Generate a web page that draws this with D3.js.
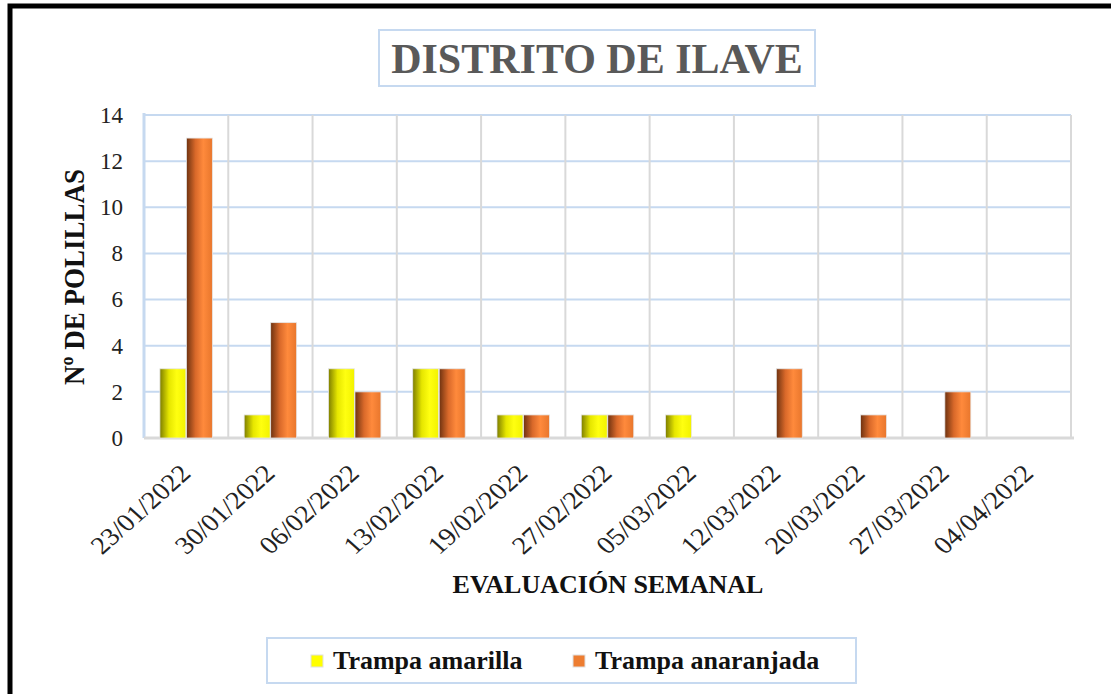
<!DOCTYPE html>
<html lang="es">
<head>
<meta charset="UTF-8">
<script src="https://d3js.org/d3.v7.min.js"></script>
<style>
  body { margin: 0; background: #fff; }
  svg { display: block; }
  svg text { font-family: "Liberation Serif", "Times New Roman", Times, serif; }
</style>
</head>
<body>
<svg id="chart" width="1111" height="694"></svg>
<script>
// data
const fechas = ["23/01/2022","30/01/2022","06/02/2022","13/02/2022","19/02/2022","27/02/2022",
                "05/03/2022","12/03/2022","20/03/2022","27/03/2022","04/04/2022"];
const amarilla   = [3, 1, 3, 3, 1, 1, 1, 0, 0, 0, 0];
const anaranjada = [13, 5, 2, 3, 1, 1, 0, 3, 1, 2, 0];
const series = ["Trampa amarilla", "Trampa anaranjada"];
const yTicks = [0, 2, 4, 6, 8, 10, 12, 14];

const svg = d3.select("#chart");
const plot = {left: 144, right: 1071, top: 115, bottom: 438};

// gradients for the cylinder look
const defs = svg.append("defs");
const grad = (id, stops) => {
  const g = defs.append("linearGradient").attr("id", id)
    .attr("x1", "0%").attr("x2", "100%").attr("y1", "0%").attr("y2", "0%");
  stops.forEach(s => g.append("stop").attr("offset", s[0]).attr("stop-color", s[1]));
};
grad("gYel", [["0%", "#7d7d00"], ["35%", "#e6e600"], ["65%", "#ffff10"], ["100%", "#f2f200"]]);
grad("gOra", [["0%", "#6e3210"], ["35%", "#d9692a"], ["65%", "#ff8a3c"], ["100%", "#e8762c"]]);

// outer frame
svg.append("rect").attr("x", 10).attr("y", 6).attr("width", 1200).attr("height", 800)
  .attr("fill", "none").attr("stroke", "#000").attr("stroke-width", 5);

// scales
const x = d3.scaleBand().domain(fechas).range([plot.left, plot.right]).paddingInner(0).paddingOuter(0);
const xs = d3.scaleBand().domain(series).range([0, x.bandwidth()]).paddingInner(0.02).paddingOuter(0.6);
const y = d3.scaleLinear().domain([0, 14]).range([plot.bottom, plot.top]);

// horizontal gridlines
svg.append("g").selectAll("line").data(yTicks.filter(d => d > 0)).join("line")
  .attr("x1", plot.left).attr("x2", plot.right)
  .attr("y1", d => y(d)).attr("y2", d => y(d))
  .attr("stroke", "#c6d9f0").attr("stroke-width", 2);

// vertical gridlines
svg.append("g").selectAll("line").data(fechas).join("line")
  .attr("x1", d => x(d) + x.bandwidth())
  .attr("x2", d => x(d) + x.bandwidth())
  .attr("y1", plot.top).attr("y2", plot.bottom)
  .attr("stroke", "#d9d9d9").attr("stroke-width", 2);

// axis lines
svg.append("line").attr("x1", plot.left).attr("x2", plot.left)
  .attr("y1", plot.top - 2).attr("y2", plot.bottom)
  .attr("stroke", "#c6d9f0").attr("stroke-width", 3);
svg.append("line").attr("x1", plot.left).attr("x2", plot.right + 3)
  .attr("y1", plot.bottom).attr("y2", plot.bottom)
  .attr("stroke", "#d9d9d9").attr("stroke-width", 3);

// bars
const rows = fechas.map((f, i) => ({f, vals: [amarilla[i], anaranjada[i]]}));
const groups = svg.append("g").selectAll("g").data(rows).join("g")
  .attr("transform", d => `translate(${x(d.f)},0)`);
groups.selectAll("rect").data(d => d.vals.map((v, k) => ({s: series[k], v, k})).filter(d => d.v > 0))
  .join("rect")
  .attr("x", d => xs(d.s))
  .attr("width", xs.bandwidth())
  .attr("y", d => y(d.v))
  .attr("height", d => y(0) - y(d.v))
  .attr("fill", d => d.k === 0 ? "url(#gYel)" : "url(#gOra)")
  .attr("stroke", "#e6e6e6").attr("stroke-width", 0.8);

// y axis
const yAxis = svg.append("g").attr("transform", `translate(${plot.left},0)`)
  .call(d3.axisLeft(y).tickValues(yTicks).tickSize(0).tickPadding(21));
yAxis.select(".domain").remove();
yAxis.selectAll("text").attr("font-size", 23).attr("fill", "#222");

// x axis labels
const xAxis = svg.append("g").attr("transform", `translate(0,${plot.bottom})`)
  .call(d3.axisBottom(x).tickSize(0).tickPadding(0));
xAxis.select(".domain").remove();
xAxis.selectAll("text")
  .attr("font-size", 25).attr("fill", "#222")
  .attr("text-anchor", "end").attr("dy", 0).attr("y", 0).attr("x", 0)
  .attr("transform", "translate(6,37) scale(1.12,1) rotate(-45)");

// axis titles
svg.append("text").attr("x", 608).attr("y", 593).attr("text-anchor", "middle")
  .attr("font-size", 26).attr("font-weight", "bold").attr("fill", "#111")
  .text("EVALUACIÓN SEMANAL");
svg.append("text").attr("transform", "translate(84,277) scale(1.1,1) rotate(-90)").attr("text-anchor", "middle")
  .attr("font-size", 27).attr("font-weight", "bold").attr("fill", "#111")
  .text("Nº DE POLILLAS");

// title
svg.append("rect").attr("x", 379).attr("y", 30).attr("width", 436).attr("height", 56)
  .attr("fill", "#fff").attr("stroke", "#c6d9f0").attr("stroke-width", 2);
svg.append("text").attr("x", 597).attr("y", 73).attr("text-anchor", "middle")
  .attr("font-size", 42).attr("font-weight", "bold").attr("fill", "#595959")
  .text("DISTRITO DE ILAVE");

// legend
svg.append("rect").attr("x", 267).attr("y", 638).attr("width", 589).attr("height", 45)
  .attr("fill", "#fff").attr("stroke", "#c6d9f0").attr("stroke-width", 2);
const legX = [311, 573];
const legColor = ["#ffff00", "#ed7d31"];
const leg = svg.append("g").selectAll("g").data(series).join("g")
  .attr("transform", (d, i) => `translate(${legX[i]},655)`);
leg.append("rect").attr("width", 12).attr("height", 12)
  .attr("fill", (d, i) => legColor[i]).attr("stroke", "#e0e0e0").attr("stroke-width", 1);
leg.append("text").attr("x", 22).attr("y", 14)
  .attr("font-size", 26).attr("font-weight", "bold").attr("fill", "#111")
  .text(d => d);
</script>
</body>
</html>
